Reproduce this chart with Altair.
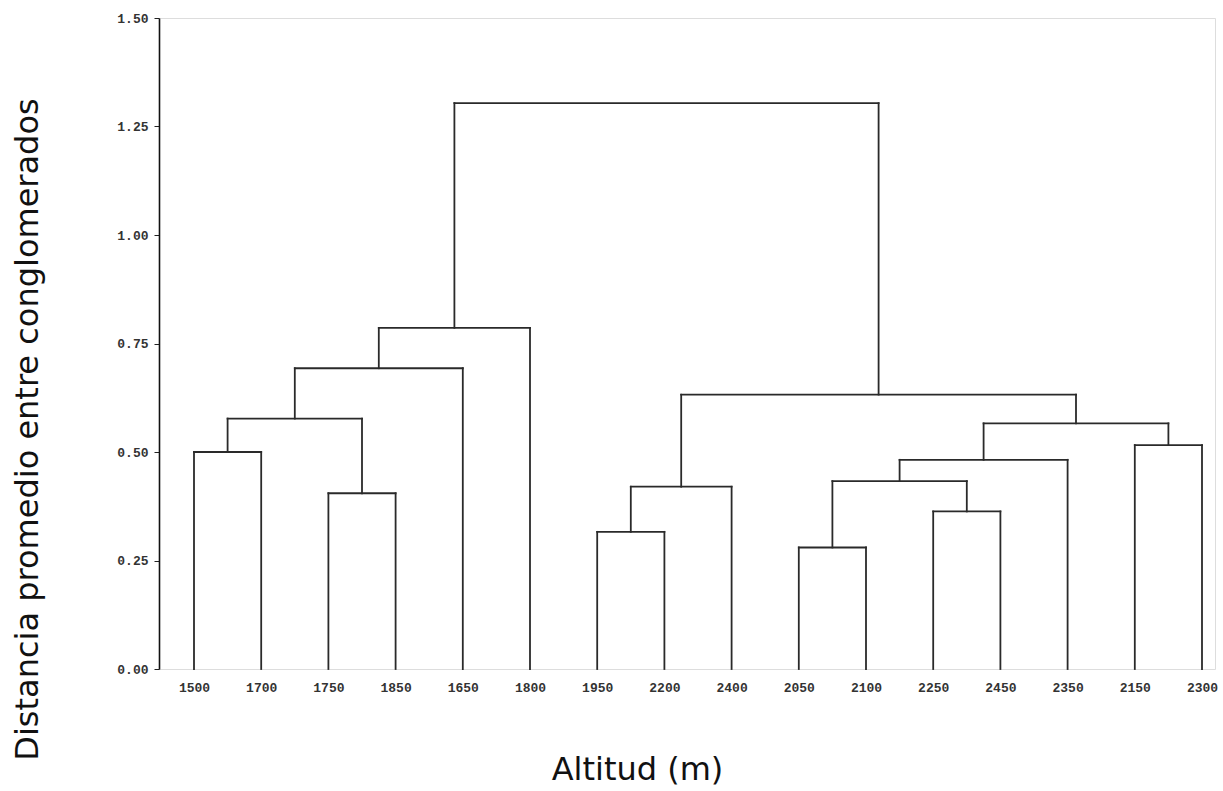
import altair as alt
import pandas as pd

# Leaves in dendrogram order (altitudes, m)
leaves = ["1500", "1700", "1750", "1850", "1650", "1800", "1950", "2200",
          "2400", "2050", "2100", "2250", "2450", "2350", "2150", "2300"]

# Merges: node ids 0..15 are leaves, 16.. are clusters (in this order)
merge_left = [9, 6, 11, 2, 17, 16, 21, 0, 14, 22, 23, 20, 26, 28, 29]
merge_right = [10, 7, 12, 3, 8, 18, 13, 1, 15, 24, 19, 25, 4, 5, 27]
merge_height = [0.28, 0.316, 0.363, 0.405, 0.42, 0.433, 0.482, 0.50,
                0.516, 0.566, 0.577, 0.632, 0.693, 0.786, 1.304]

y_ticks = [0.0, 0.25, 0.5, 0.75, 1.0, 1.25, 1.5]

# Build segments from the tree structure
n = len(leaves)
xpos = {i: float(i) for i in range(n)}
hpos = {i: 0.0 for i in range(n)}
rows = []
for k, (a, b, h) in enumerate(zip(merge_left, merge_right, merge_height)):
    node = n + k
    xa, xb = xpos[a], xpos[b]
    rows.append({"x": xa, "x2": xa, "y": hpos[a], "y2": h})
    rows.append({"x": xa, "x2": xb, "y": h, "y2": h})
    rows.append({"x": xb, "x2": xb, "y": hpos[b], "y2": h})
    xpos[node] = (xa + xb) / 2
    hpos[node] = h
df = pd.DataFrame(rows)

label_arr = "[" + ",".join("'%s'" % s for s in leaves) + "]"

W, H = 1056, 651
step = 67.2
x_dom = [-35 / step, (W - 35) / step]

chart = alt.Chart(df).mark_rule(
    color="#2a2a2a", strokeWidth=1.8, strokeCap="square"
).encode(
    x=alt.X("x:Q", scale=alt.Scale(domain=x_dom, nice=False, zero=False),
            axis=alt.Axis(values=list(range(n)), labelExpr=label_arr + "[datum.value]",
                          ticks=False, domain=False, grid=False,
                          labelPadding=12, labelFont="Liberation Mono",
                          labelFontSize=13, labelFontWeight="bold",
                          labelColor="#333333",
                          title="Altitud (m)", titleFont="DejaVu Sans",
                          titleFontSize=32, titleFontWeight="normal",
                          titleColor="#111111",
                          titleX=478, titleY=110, titleBaseline="alphabetic",
                          titleAnchor="start", titleAlign="center")),
    x2="x2:Q",
    y=alt.Y("y:Q", scale=alt.Scale(domain=[0, 1.5], nice=False),
            axis=alt.Axis(values=y_ticks, format=".2f", grid=False,
                          tickSize=5, tickColor="#222222", domainColor="#111111",
                          domainWidth=1.6, labelPadding=6,
                          labelFont="Liberation Mono", labelFontSize=13,
                          labelFontWeight="bold", labelColor="#333333",
                          title="Distancia promedio entre conglomerados",
                          titleFont="DejaVu Sans", titleFontSize=32,
                          titleFontWeight="normal", titleColor="#111111",
                          titleX=-132, titleY=411, titleBaseline="middle",
                          titleAngle=270, titleAlign="center")),
    y2="y2:Q",
).properties(
    width=W, height=H,
    autosize=alt.AutoSizeParams(type="none"),
    padding={"left": 159, "top": 18, "right": 8, "bottom": 122},
).configure_view(stroke=None).configure(background="white")

chart.save("out.html", embed_options={"renderer": "svg", "actions": False})
